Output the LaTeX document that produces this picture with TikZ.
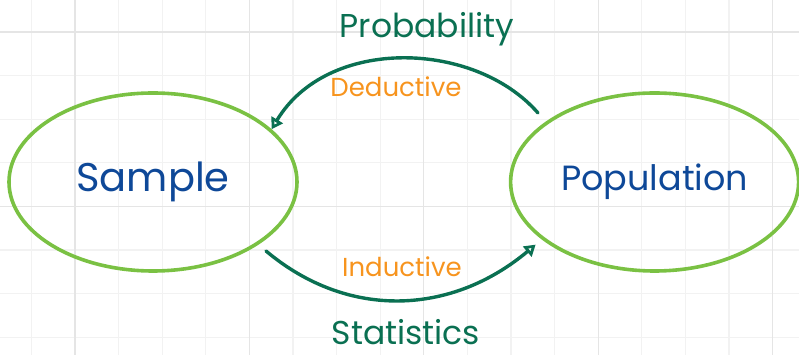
\documentclass[tikz,border=0pt]{standalone}
\usepackage{fontspec}
\setmainfont{Poppins}
\definecolor{SetGreen}{RGB}{122,193,67}
\definecolor{ArrowGreen}{RGB}{10,112,82}
\definecolor{MethodOrange}{RGB}{247,148,30}
\definecolor{InkBlue}{RGB}{14,72,152}
\usetikzlibrary{shapes.geometric, arrows.meta, positioning}

\begin{document}
\begin{tikzpicture}[x=1pt, y=1pt, node distance=210pt, auto]
        \tikzstyle{set} = [ellipse, draw=SetGreen, line width=3.6pt, text=InkBlue,
            inner sep=0pt, minimum width=288pt, minimum height=178pt]
        \tikzstyle{line} = [draw=ArrowGreen, line width=3.4pt, line cap=round,
            -{Triangle[open, length=11pt, width=13pt, line width=3pt]}]
        \tikzstyle{branch} = [text=ArrowGreen, anchor=base, inner sep=1pt,
            font=\fontsize{33}{33}\selectfont]
        \tikzstyle{method} = [text=MethodOrange, anchor=base, inner sep=1pt,
            font=\fontsize{26}{26}\selectfont]

        \useasboundingbox (0,0) rectangle (799,355);
        % squared paper
        \foreach \i in {0,...,17}
            \draw [gray!10, line width=1.2pt] ({31.4+43.6*\i},0) -- ++(0,355);
        \foreach \j in {0,...,7}
            \draw [gray!10, line width=1.2pt] (0,{323-43.6*\j}) -- ++(799,0);
        \foreach \i in {1,5,9,13,17}
            \draw [gray!20, line width=1.2pt] ({31.4+43.6*\i},0) -- ++(0,355);
        \foreach \j in {0,4}
            \draw [gray!20, line width=1.2pt] (0,{323-43.6*\j}) -- ++(799,0);

        \node [set, font=\fontsize{40}{40}\selectfont] (sample) at (153,173) {Sample};
        \node [set, font=\fontsize{35}{35}\selectfont, right=of sample] (population) {Population};

        \coordinate (probstart) at (538,242);
        \coordinate (statstart) at (266,104);

        \path [line] (probstart) .. controls +(131:96) and +(59:109) .. (sample.24);
        \path [line, shorten >=8pt] (statstart) .. controls +(-40:108) and +(220:117) .. (population.207);

        \node [branch] (probability) at (427,317) {Probability};
        \node [method] (deductive) at (396,258) {Deductive};
        \node [method] (inductive) at (402,78) {Inductive};
        \node [branch] (statistics) at (406,10) {Statistics};
    \end{tikzpicture}
\end{document}
